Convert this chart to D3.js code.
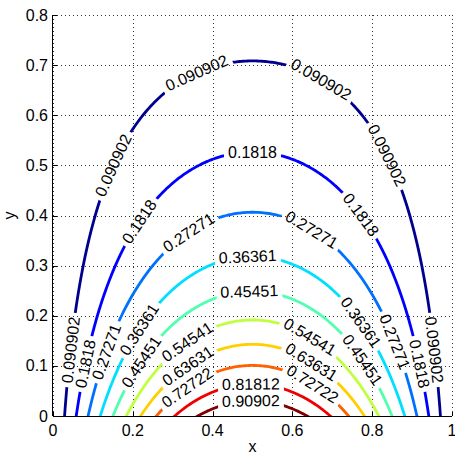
<!DOCTYPE html>
<html>
<head>
<meta charset="utf-8">
<script src="https://cdn.jsdelivr.net/npm/d3@7"></script>
<style>
  body { margin: 0; background: #fff; }
  text { font-family: "Liberation Sans", Arial, sans-serif; }
</style>
</head>
<body>
<svg id="chart" width="455" height="455"></svg>
<script>
// contour levels, as printed on the labels
const levels = [0.090902, 0.1818, 0.27271, 0.36361, 0.45451, 0.54541, 0.63631, 0.72722, 0.81812, 0.90902];
const levelText = ['0.090902', '0.1818', '0.27271', '0.36361', '0.45451', '0.54541', '0.63631', '0.72722', '0.81812', '0.90902'];
const xTicks = [0, 0.2, 0.4, 0.6, 0.8, 1];
const yTicks = [0, 0.1, 0.2, 0.3, 0.4, 0.5, 0.6, 0.7, 0.8];
// where the clabel labels sit: [level index, x, y]
const labelSpots = [
  [0, 0.36, 0.687], [0, 0.68, 0.68], [0, 0.125, 0.51], [0, 0.875, 0.535], [0, 0.045, 0.13], [0, 0.957, 0.132],
  [1, 0.5, 0.525], [1, 0.215, 0.39], [1, 0.78, 0.407], [1, 0.082, 0.105], [1, 0.915, 0.102],
  [2, 0.34, 0.365], [2, 0.647, 0.37], [2, 0.128, 0.128], [2, 0.855, 0.146],
  [3, 0.49, 0.315], [3, 0.208, 0.178], [3, 0.77, 0.186],
  [4, 0.494, 0.245], [4, 0.22, 0.11], [4, 0.775, 0.112],
  [5, 0.338, 0.146], [5, 0.644, 0.156],
  [6, 0.338, 0.1], [6, 0.65, 0.108],
  [7, 0.338, 0.056], [7, 0.652, 0.066],
  [8, 0.495, 0.064],
  [9, 0.495, 0.03]
];

// the plotted field: u = sin(pi x) sinh(pi (1-y)) / sinh(pi)
const field = (x, y) => Math.sin(Math.PI * x) * Math.sinh(Math.PI * (1 - y)) / Math.sinh(Math.PI);

const margin = {left: 53, right: 3, top: 15, bottom: 39};
const W = 455, H = 455;
const svg = d3.select('#chart');

const x = d3.scaleLinear().domain([0, 1]).range([margin.left, W - margin.right]);
const y = d3.scaleLinear().domain([0, 0.8]).range([H - margin.bottom, margin.top]);

// MATLAB jet(64)
function jet(m) {
  const n = Math.ceil(m / 4);
  const u = [];
  for (let i = 1; i <= n; i++) u.push(i / n);
  for (let i = 1; i < n; i++) u.push(1);
  for (let i = n; i >= 1; i--) u.push(i / n);
  const off = Math.ceil(n / 2) - (m % 4 === 1 ? 1 : 0);
  const J = d3.range(m).map(() => [0, 0, 0]);
  u.forEach((v, k) => {
    const g = off + k + 1, r = g + n, b = g - n;
    if (g <= m) J[g - 1][1] = v;
    if (r <= m) J[r - 1][0] = v;
    if (b >= 1) J[b - 1][2] = v;
  });
  return J.map(c => d3.rgb(c[0] * 255, c[1] * 255, c[2] * 255).formatHex());
}
const cmap = jet(64);
const lo = d3.min(levels), hi = d3.max(levels);
const colorOf = v => cmap[Math.min(63, Math.floor((v - lo) / (hi - lo) * 64 + 1e-9))];

// grid lines (dotted)
const grid = svg.append('g').attr('stroke', '#333').attr('stroke-width', 1).attr('stroke-dasharray', '1,3');
xTicks.forEach(t => grid.append('line')
  .attr('x1', Math.round(x(t)) + 0.5).attr('x2', Math.round(x(t)) + 0.5)
  .attr('y1', y(0)).attr('y2', y(0.8)));
yTicks.forEach(t => grid.append('line')
  .attr('y1', Math.round(y(t)) + 0.5).attr('y2', Math.round(y(t)) + 0.5)
  .attr('x1', x(0)).attr('x2', x(1)));

// sample grid, padded below y = 0 so contours do not close along the edge
const x0 = 0, x1 = 1, y0 = -0.1, y1 = 0.8, step = 0.004;
const nx = Math.round((x1 - x0) / step) + 1, ny = Math.round((y1 - y0) / step) + 1;
const values = new Array(nx * ny);
for (let j = 0; j < ny; j++)
  for (let i = 0; i < nx; i++)
    values[j * nx + i] = field(x0 + i * step, y0 + j * step);

const contours = d3.contours().size([nx, ny]).thresholds(levels)(values);
const toPx = (gx, gy) => [x(x0 + (gx - 0.5) * step), y(y0 + (gy - 0.5) * step)];
const proj = d3.geoTransform({
  point(gx, gy) { const p = toPx(gx, gy); this.stream.point(p[0], p[1]); }
});
const path = d3.geoPath(proj);

const defs = svg.append('defs');
defs.append('clipPath').attr('id', 'plotclip').append('rect')
  .attr('x', x(0)).attr('y', y(0.8)).attr('width', x(1) - x(0)).attr('height', y(0) - y(0.8));
const mask = defs.append('mask').attr('id', 'labelmask').attr('maskUnits', 'userSpaceOnUse')
  .attr('x', 0).attr('y', 0).attr('width', W).attr('height', H);
mask.append('rect').attr('width', W).attr('height', H).attr('fill', 'white');

// contour lines
svg.append('g').attr('clip-path', 'url(#plotclip)')
  .append('g').attr('mask', 'url(#labelmask)')
  .selectAll('path')
  .data(contours)
  .join('path')
  .attr('d', path)
  .attr('fill', 'none')
  .attr('stroke', d => colorOf(d.value))
  .attr('stroke-width', 2.8)
  .attr('stroke-linejoin', 'round');

// labels: snap each spot onto its contour, rotate along the chord it covers
const labels = svg.append('g');
labelSpots.forEach(([li, lx, ly]) => {
  const target = [x(lx), y(ly)];
  let best = null;
  contours[li].coordinates.forEach(poly => poly.forEach(ring => {
    const pts = ring.map(p => toPx(p[0], p[1]));
    pts.forEach((p, k) => {
      const d = (p[0] - target[0]) ** 2 + (p[1] - target[1]) ** 2;
      if (!best || d < best.d) best = {d, pts, k};
    });
  }));
  const {pts, k} = best;
  const n = pts.length;
  const p = pts[k];
  const t = labels.append('text')
    .attr('text-anchor', 'middle')
    .attr('dy', '0.35em')
    .attr('font-size', 16)
    .attr('fill', '#000')
    .text(levelText[li]);
  const w = t.node().getComputedTextLength() + 8;
  const far = dir => {
    let j = k;
    for (let s = 0; s < n; s++) {
      j = (j + dir + n) % n;
      if (Math.hypot(pts[j][0] - p[0], pts[j][1] - p[1]) >= w / 2) break;
    }
    return pts[j];
  };
  const a = far(-1), b = far(1);
  let ang = Math.atan2(b[1] - a[1], b[0] - a[0]) * 180 / Math.PI;
  if (ang > 90) ang -= 180;
  if (ang <= -90) ang += 180;
  t.attr('transform', `translate(${p[0]},${p[1]}) rotate(${ang})`);
  mask.append('rect')
    .attr('transform', `translate(${p[0]},${p[1]}) rotate(${ang})`)
    .attr('x', -w / 2).attr('y', -8.5).attr('width', w).attr('height', 17)
    .attr('fill', 'black');
});

// axes (left and bottom only, ticks inward)
const axes = svg.append('g').attr('font-size', 16);
axes.append('line').attr('x1', x(0)).attr('x2', x(1)).attr('y1', y(0) + 0.5).attr('y2', y(0) + 0.5)
  .attr('stroke', '#000');
axes.append('line').attr('x1', x(0) - 0.5).attr('x2', x(0) - 0.5).attr('y1', y(0)).attr('y2', y(0.8))
  .attr('stroke', '#000');
xTicks.forEach(t => {
  axes.append('line').attr('x1', Math.round(x(t)) + 0.5).attr('x2', Math.round(x(t)) + 0.5)
    .attr('y1', y(0)).attr('y2', y(0) - 4).attr('stroke', '#000');
  axes.append('text').attr('x', x(t)).attr('y', y(0) + 19.5).attr('text-anchor', 'middle')
    .text(d3.format('~g')(t));
});
yTicks.forEach(t => {
  axes.append('line').attr('y1', Math.round(y(t)) + 0.5).attr('y2', Math.round(y(t)) + 0.5)
    .attr('x1', x(0)).attr('x2', x(0) + 4).attr('stroke', '#000');
  axes.append('text').attr('x', x(0) - 5).attr('y', y(t)).attr('dy', '0.35em').attr('text-anchor', 'end')
    .text(d3.format('~g')(t));
});
axes.append('text').attr('x', (x(0) + x(1)) / 2).attr('y', 452).attr('text-anchor', 'middle').text('x');
axes.append('text').attr('transform', `translate(15,${(y(0) + y(0.8)) / 2}) rotate(-90)`)
  .attr('text-anchor', 'middle').text('y');
</script>
</body>
</html>
